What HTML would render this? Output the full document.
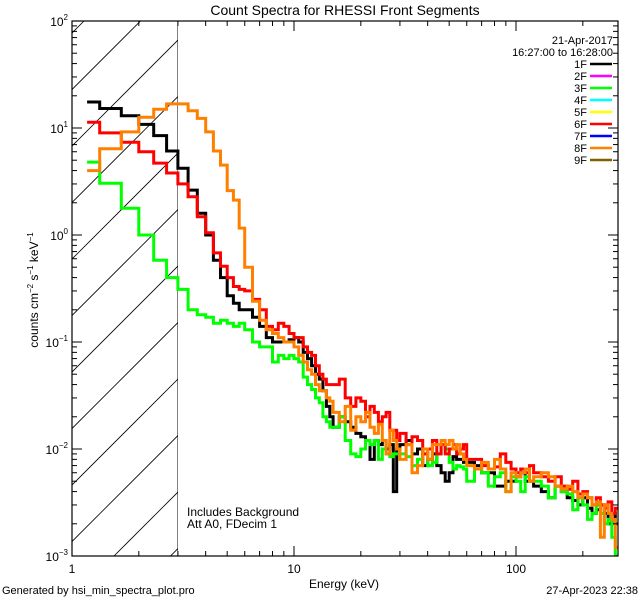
<!DOCTYPE html>
<html><head><meta charset="utf-8"><style>
html,body{margin:0;padding:0;background:#fff;}
svg{display:block;font-family:"Liberation Sans",sans-serif;}
</style></head><body>
<svg id="chart" width="640" height="600" viewBox="0 0 640 600" xmlns="http://www.w3.org/2000/svg">
<rect x="0" y="0" width="640" height="600" fill="#fff"/>
<text x="345" y="15" font-size="14" text-anchor="middle">Count Spectra for RHESSI Front Segments</text>
<g id="hatch"></g>
<g id="series"></g>
<g id="axes"></g>
<text transform="translate(38,290) rotate(-90)" font-size="12" text-anchor="middle">counts cm<tspan font-size="8" dy="-5">−2</tspan><tspan dy="5"> s</tspan><tspan font-size="8" dy="-5">−1</tspan><tspan dy="5"> keV</tspan><tspan font-size="8" dy="-5">−1</tspan></text>
<text x="344" y="588" font-size="12" text-anchor="middle">Energy (keV)</text>
<text x="2" y="594" font-size="11">Generated by hsi_min_spectra_plot.pro</text>
<text x="638" y="594" font-size="11" text-anchor="end">27-Apr-2023 22:38</text>
<text x="187" y="516" font-size="12">Includes Background</text>
<text x="187" y="528" font-size="12">Att A0, FDecim 1</text>
<g id="legend"></g>
</svg>
<script>
const edges=[1.17,1.333,1.667,2,2.333,2.667,3,3.333,3.667,4,4.333,4.667,5,5.333,5.667,6,
6.5,7,7.5,8,8.5,9,9.5,10,10.5,11,11.5,12,12.5,13,13.5,14,14.5,15,
16,17,18,19,20,21,22,23,24,25,26,27,28,29,30,
32,34,36,38,40,42,44,46,48,50,52,54,56,58,60,
65,70,75,80,85,90,95,100,105,110,115,120,
130,140,150,160,170,180,190,200,210,220,230,240,250,260,270,280,290];
const seg1F=[17.5,15.2,13.0,10.8,8.5,6.1,4.2,2.63,1.6,1.0,0.58,0.40,0.27,0.23,0.20,
0.2,0.17,0.14,0.11,0.1,0.1,0.1,0.105,0.11,0.1,0.08,0.07,0.06,0.05,0.045,0.035,0.025,0.02,
0.016,0.02,0.018,0.016,0.014,0.013,0.012,0.008,0.012,0.011,0.012,0.010,0.011,0.004,0.010,
0.011,0.012,0.009,0.01,0.007,0.008,0.009,0.007,0.006,0.005,0.006,0.0085,0.008,0.008,0.0075,
0.0075,0.007,0.006,0.006,0.0045,0.0045,0.005,0.005,0.0055,0.006,0.005,0.005,
0.0045,0.004,0.0035,0.0045,0.004,0.0035,0.0033,0.003,0.0035,0.0028,0.0025,0.0027,0.003,0.0025,0.002,0.0025,0.002];
const seg3F=[4.8,3.04,1.78,1.0,0.58,0.4,0.31,0.2,0.18,0.17,0.15,0.16,0.15,0.14,0.15,
0.13,0.1,0.09,0.09,0.065,0.075,0.07,0.075,0.07,0.065,0.047,0.04,0.036,0.03,0.027,0.02,0.018,0.016,
0.016,0.02,0.012,0.009,0.0085,0.01,0.012,0.011,0.012,0.008,0.01,0.009,0.0085,0.009,0.009,
0.009,0.0085,0.007,0.008,0.009,0.007,0.0075,0.009,0.011,0.01,0.0075,0.0065,0.007,0.0068,0.0065,
0.005,0.0065,0.006,0.0045,0.0055,0.006,0.004,0.0055,0.005,0.004,0.0055,0.005,
0.005,0.0045,0.0035,0.0045,0.004,0.0038,0.0027,0.0035,0.003,0.0022,0.0025,0.003,0.0025,0.002,0.0022,0.0015,0.001];
const seg6F=[11.3,9.0,7.35,6.0,4.7,3.8,3.0,2.28,1.48,1.05,0.68,0.51,0.40,0.33,0.31,
0.3,0.25,0.2,0.14,0.13,0.15,0.14,0.12,0.11,0.11,0.09,0.08,0.075,0.06,0.05,0.045,0.04,0.04,
0.04,0.045,0.03,0.025,0.03,0.028,0.02,0.025,0.022,0.018,0.02,0.022,0.015,0.015,0.012,
0.014,0.011,0.013,0.012,0.009,0.01,0.012,0.009,0.011,0.009,0.01,0.011,0.009,0.01,0.011,
0.008,0.008,0.007,0.0065,0.0068,0.009,0.0075,0.0065,0.006,0.0065,0.006,0.007,
0.006,0.0055,0.005,0.0055,0.0045,0.0042,0.005,0.0038,0.004,0.0035,0.003,0.0035,0.003,0.0028,0.0032,0.0025,0.0028];
const seg8F=[4.0,6.4,9.2,12.6,15,16.8,16.8,14.5,12.3,9.2,6.1,4.5,2.6,2.12,1.16,
0.5,0.24,0.16,0.13,0.12,0.11,0.1,0.1,0.09,0.075,0.065,0.055,0.05,0.04,0.035,0.035,0.03,0.028,
0.022,0.018,0.025,0.015,0.02,0.018,0.022,0.016,0.014,0.017,0.012,0.009,0.015,0.012,0.01,
0.008,0.011,0.006,0.007,0.01,0.008,0.011,0.011,0.012,0.011,0.012,0.01,0.011,0.009,0.008,
0.007,0.0065,0.0075,0.0065,0.008,0.0065,0.004,0.006,0.0055,0.006,0.0065,0.005,
0.0055,0.006,0.0055,0.0045,0.0042,0.0045,0.004,0.0035,0.0038,0.0035,0.003,0.0032,0.0015,0.003,0.0025,0.0022,0.0012];
const legendLabels=["1F","2F","3F","4F","5F","6F","7F","8F","9F"];
const legendColors=["#000000","#ff00ff","#00ff00","#00ffff","#ffff00","#ff0000","#0000ff","#ff8000","#806000"];
const xTickLabels=["1","10","100"];
const yTickExps=[2,1,0,-1,-2,-3];

const NS="http://www.w3.org/2000/svg";
const L=72,R=618,T=21,B=556,XD=222,YD=107;
function X(e){return L+XD*Math.log10(e);}
function Y(v){return T+YD*(2-Math.log10(v));}
function mk(tag,attrs,parent){const el=document.createElementNS(NS,tag);for(const k in attrs)el.setAttribute(k,attrs[k]);parent.appendChild(el);return el;}

const hatch=document.getElementById('hatch');
const defs=mk('defs',{},document.getElementById('chart'));
const cp=mk('clipPath',{id:'hclip'},defs);
mk('rect',{x:L,y:T,width:X(3)-L,height:B-T},cp);
const pc=mk('clipPath',{id:'pclip'},defs);
mk('rect',{x:L,y:T,width:R-L,height:B-T},pc);
hatch.setAttribute('clip-path','url(#hclip)');
for(let k=0;k<14;k++){const c=105+56.5*k;
 const ln=mk('line',{x1:c-T,y1:T,x2:c-B-10,y2:B+10,stroke:'#000','stroke-width':0.8},hatch);
 
 
}
mk('line',{x1:X(3),y1:T,x2:X(3),y2:B,stroke:'#000','stroke-width':1},hatch);

const sg=document.getElementById('series');
sg.setAttribute('clip-path','url(#pclip)');
const seriesList=[[seg1F,"#000000","series-1f"],[seg3F,"#00ff00","series-3f"],[seg6F,"#ff0000","series-6f"],[seg8F,"#ff8000","series-8f"]];
for(const [vals,col,name] of seriesList){
 let d="";
 for(let i=0;i<vals.length;i++){
  const x0=X(edges[i]),x1=X(edges[i+1]),y=Y(vals[i]);
  d+=(i===0?"M":"L")+x0.toFixed(1)+","+y.toFixed(1)+"L"+x1.toFixed(1)+","+y.toFixed(1);
 }
 const p=mk('path',{d:d,fill:'none',stroke:col,'stroke-width':3,'stroke-linejoin':'miter'},sg);
 
 
}

const ax=document.getElementById('axes');
mk('rect',{x:L,y:T,width:R-L,height:B-T,fill:'none',stroke:'#000','stroke-width':1.2},ax);
for(let dec=0;dec<3;dec++){for(let m=1;m<10;m++){const e=m*Math.pow(10,dec);if(e<1||X(e)>R)continue;
 const x=X(e),len=m===1?10:5;
 mk('line',{x1:x,y1:B,x2:x,y2:B-len,stroke:'#000'},ax);
 mk('line',{x1:x,y1:T,x2:x,y2:T+len,stroke:'#000'},ax);}}
xTickLabels.forEach(s=>{const t=mk('text',{x:X(parseFloat(s)),y:B+17,'font-size':12,'text-anchor':'middle'},ax);t.textContent=s;
 
 });
for(let ex=-3;ex<2;ex++){for(let m=1;m<10;m++){const v=m*Math.pow(10,ex);const y=Y(v),len=m===1?10:5;
 mk('line',{x1:L,y1:y,x2:L+len,y2:y,stroke:'#000'},ax);
 mk('line',{x1:R,y1:y,x2:R-len,y2:y,stroke:'#000'},ax);}}
yTickExps.forEach(ex=>{const y=Y(Math.pow(10,ex));
 mk('line',{x1:L,y1:y,x2:L+10,y2:y,stroke:'#000'},ax);mk('line',{x1:R,y1:y,x2:R-10,y2:y,stroke:'#000'},ax);
 const t=mk('text',{x:L-4,y:y+5,'font-size':12,'text-anchor':'end'},ax);
 
 
 t.innerHTML='10<tspan font-size="8" dy="-6">'+(ex<0?'−'+(-ex):ex)+'</tspan>';});

const lg=document.getElementById('legend');
let t=mk('text',{x:613,y:44,'font-size':11,'text-anchor':'end'},lg);t.textContent="21-Apr-2017";


t=mk('text',{x:613,y:56,'font-size':11,'text-anchor':'end'},lg);t.textContent="16:27:00 to 16:28:00";


legendLabels.forEach((lab,i)=>{const y=68+12*i;
 const g=mk('g',{},lg);
 
 
 const tx=mk('text',{x:587,y:y,'font-size':11,'text-anchor':'end'},g);tx.textContent=lab;
 mk('line',{x1:590,y1:y-4,x2:612,y2:y-4,stroke:legendColors[i],'stroke-width':2.5},g);});
</script>
</body></html>
